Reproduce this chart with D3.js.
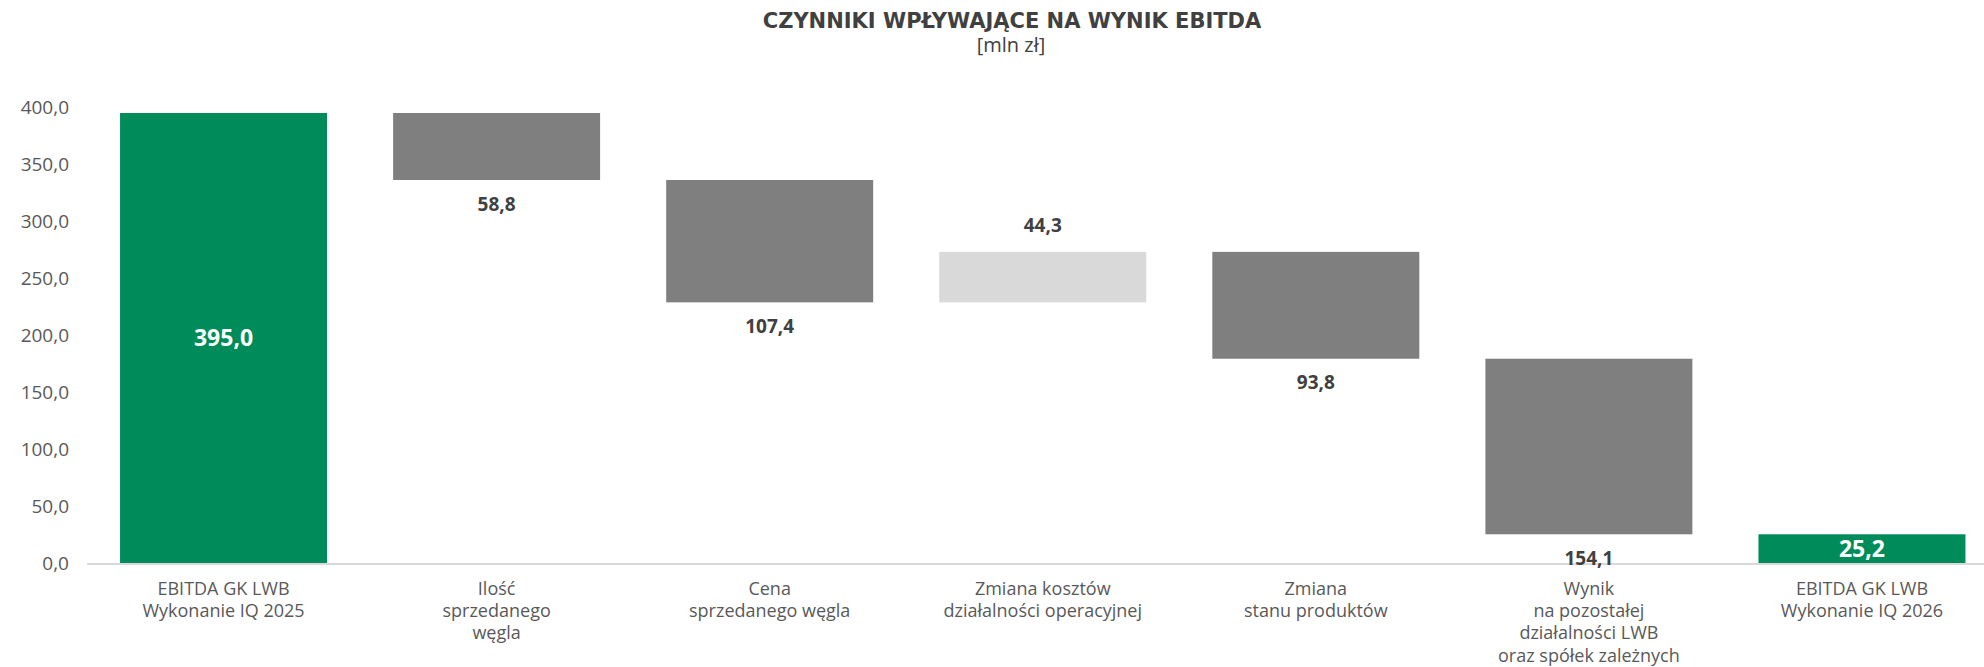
<!DOCTYPE html>
<html>
<head>
<meta charset="utf-8">
<script src="https://cdn.jsdelivr.net/npm/d3@7"></script>
<style>
html,body{margin:0;padding:0;background:#fff;}
svg{display:block;font-family:"Open Sans","DejaVu Sans",sans-serif;}
</style>
</head>
<body>
<svg id="chart" width="1984" height="667"></svg>
<script>
// ---- data ----
const categories = [
  ["EBITDA GK LWB","Wykonanie IQ 2025"],
  ["Ilość","sprzedanego","węgla"],
  ["Cena","sprzedanego węgla"],
  ["Zmiana kosztów","działalności operacyjnej"],
  ["Zmiana","stanu produktów"],
  ["Wynik","na pozostałej","działalności LWB","oraz spółek zależnych"],
  ["EBITDA GK LWB","Wykonanie IQ 2026"]
];
const values = [395.0, -58.8, -107.4, 44.3, -93.8, -154.1, 25.2];
const kinds = ["total","delta","delta","delta","delta","delta","total"];
const yTicks = [0,50,100,150,200,250,300,350,400];
const titleText = "CZYNNIKI WPŁYWAJĄCE NA WYNIK EBITDA";
const subtitleText = "[mln zł]";

// ---- layout ----
const W = 1984, H = 667;
const svg = d3.select("#chart");
const left = 87, right = 1998.5, baseY = 563, topY = 107.3;

const x = d3.scaleBand().domain(d3.range(categories.length))
  .range([left, right]).paddingInner(0.242).paddingOuter(0.121);
const y = d3.scaleLinear().domain([0,400]).range([baseY, topY]);

const fmt = v => d3.format(".1f")(Math.abs(v)).replace(".", ",");

// compute waterfall segments
let run = 0;
const bars = values.map((v,i) => {
  let y0, y1;
  if (kinds[i] === "total") { y0 = 0; y1 = v; run = v; }
  else { y0 = run; y1 = run + v; run = y1; }
  return {i, v, kind: kinds[i], lo: Math.min(y0,y1), hi: Math.max(y0,y1)};
});

const colorOf = b => b.kind === "total" ? "#008c5a" : (b.v < 0 ? "#7f7f7f" : "#d9d9d9");

// title
svg.append("text").attr("x", 1012).attr("y", 28).attr("text-anchor","middle")
  .attr("font-family", "'DejaVu Sans', sans-serif")
  .attr("font-size", 21).attr("font-weight", 700).attr("fill", "#404040").text(titleText);
svg.append("text").attr("x", 1011).attr("y", 52).attr("text-anchor","middle")
  .attr("font-size", 20).attr("fill", "#404040").text(subtitleText);

// y axis
const yAxis = d3.axisLeft(y).tickValues(yTicks).tickSize(0).tickPadding(18)
  .tickFormat(d => d3.format(".1f")(d).replace(".", ","));
const ga = svg.append("g").attr("transform", `translate(${left},0)`).call(yAxis);
ga.select(".domain").remove();
ga.selectAll("text").attr("font-size", 19).attr("fill", "#595959")
  .attr("font-family", "'Open Sans', sans-serif");

// bars
svg.append("g").selectAll("rect").data(bars).join("rect")
  .attr("x", d => x(d.i)).attr("width", x.bandwidth())
  .attr("y", d => y(d.hi)).attr("height", d => y(d.lo) - y(d.hi))
  .attr("fill", colorOf);

// baseline
svg.append("line").attr("x1", left).attr("x2", W).attr("y1", baseY + 1).attr("y2", baseY + 1)
  .attr("stroke", "#d9d9d9").attr("stroke-width", 2);

// value labels
svg.append("g").selectAll("text").data(bars).join("text")
  .attr("x", d => x(d.i) + x.bandwidth()/2)
  .attr("y", d => {
    if (d.kind === "total") return (y(d.lo) + y(d.hi))/2;
    return d.v < 0 ? y(d.lo) + 24 : y(d.hi) - 27;
  })
  .attr("dy", "0.35em").attr("text-anchor", "middle")
  .attr("font-size", d => d.kind === "total" ? 23 : 19).attr("font-weight", 700)
  .attr("fill", d => d.kind === "total" ? "#ffffff" : "#404040")
  .text(d => fmt(d.v));

// category labels
const cg = svg.append("g").selectAll("text").data(categories).join("text")
  .attr("text-anchor", "middle").attr("font-size", 18).attr("fill", "#595959")
  .attr("transform", (d,i) => `translate(${x(i) + x.bandwidth()/2},595)`);
cg.selectAll("tspan").data(d => d).join("tspan")
  .attr("x", 0).attr("dy", (d,j) => j === 0 ? 0 : 22.2).text(d => d);
</script>
</body>
</html>
